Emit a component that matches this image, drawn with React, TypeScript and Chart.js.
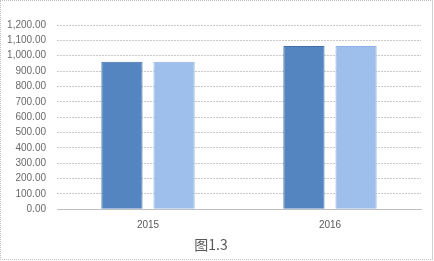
import React, { useEffect, useRef } from "react";
import { Chart, registerables } from "chart.js";

Chart.register(...registerables);

const categories = ["2015", "2016"];
const seriesA = [960, 1064];
const seriesB = [960, 1064];
const yTickMax = 1200;
const yTickStep = 100;
const titleText = "图1.3";

export default function App() {
  const ref = useRef<HTMLCanvasElement | null>(null);
  useEffect(() => {
    if (!ref.current) return;
    const chart = new Chart(ref.current, {
      type: "bar",
      data: {
        labels: categories,
        datasets: [
          {
            label: "A",
            data: seriesA,
            backgroundColor: "#5585c0",
            borderColor: "#3f6ea8",
            borderWidth: 1,
            categoryPercentage: 0.573,
            barPercentage: 0.79,
          },
          {
            label: "B",
            data: seriesB,
            backgroundColor: "#9ebfec",
            borderColor: "#8fb3e6",
            borderWidth: 1,
            categoryPercentage: 0.573,
            barPercentage: 0.79,
          },
        ],
      },
      options: {
        animation: false,
        responsive: false,
        maintainAspectRatio: false,
        layout: { padding: { left: 0, right: 11, top: 24, bottom: 3 } },
        plugins: {
          legend: { display: false },
          tooltip: { enabled: false },
          title: {
            display: true,
            text: titleText,
            position: "bottom",
            color: "#595959",
            font: { family: "'Noto Sans CJK SC', 'Liberation Sans'", size: 14, weight: "normal" },
            padding: { top: 3, bottom: 3 },
          },
        },
        scales: {
          x: {
            grid: { display: false },
            border: { display: true, color: "#bfbfbf" },
            ticks: {
              color: "#595959",
              font: { family: "'Liberation Sans', Arial", size: 10 },
              padding: 2,
            },
          },
          y: {
            min: 0,
            max: yTickMax,
            afterFit: (s: any) => { s.width = 56; },
            ticks: {
              stepSize: yTickStep,
              autoSkip: false,
              color: "#6a6a6a",
              font: { family: "'Liberation Sans', Arial", size: 10 },
              padding: 11,
              callback: (v: any) =>
                Number(v).toLocaleString("en-US", { minimumFractionDigits: 2, maximumFractionDigits: 2 }),
            },
            grid: { color: "#c8c8c8", drawTicks: false, lineWidth: 1 },
            border: { display: false, dash: [2, 1] },
          },
        },
      },
    });
    return () => chart.destroy();
  }, []);
  return (
    <div
      style={{
        position: "fixed",
        left: 0,
        top: 0,
        width: 433,
        height: 260,
        boxSizing: "border-box",
        borderTop: "1px dotted #bfbfbf",
        borderLeft: "1px dotted #bfbfbf",
        borderBottom: "1px dotted #bfbfbf",
        borderRight: "1px solid #d0d0d0",
        background: "#fff",
      }}
    >
      <canvas ref={ref} width={431} height={258} style={{ display: "block" }} />
    </div>
  );
}
